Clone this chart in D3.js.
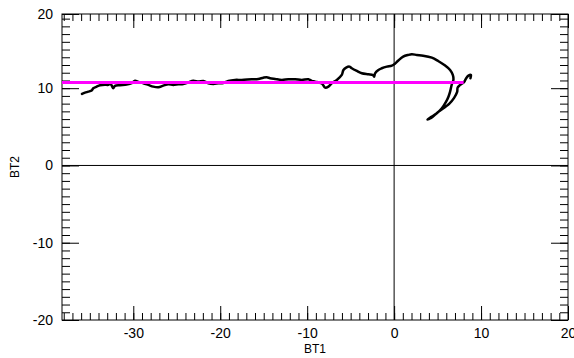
<!DOCTYPE html>
<html>
<head>
<meta charset="utf-8">
<script src="https://cdn.jsdelivr.net/npm/d3@7"></script>
<style>
  body { margin: 0; background: #fff; }
  svg { display: block; font-family: "Liberation Sans", Arial, sans-serif; }
</style>
</head>
<body>
<svg id="chart" width="574" height="358"></svg>
<script>
// trajectory (BT1, BT2)
const bt1 = [-35.90, -35.56, -35.18, -34.79, -34.60, -34.21, -33.83, -33.26, -32.88, -32.68,
  -32.49, -32.30, -32.11, -31.53, -30.76, -30.18, -29.80, -29.42, -28.85, -28.27,
  -27.70, -27.12, -26.55, -25.97, -25.40, -24.82, -24.25, -23.67, -23.10, -22.52,
  -21.94, -21.37, -20.79, -20.22, -19.64, -19.07, -18.30, -17.53, -16.38, -15.62,
  -15.04, -14.65, -14.27, -13.69, -12.92, -12.16, -11.39, -10.62, -9.86, -9.47,
  -9.09, -8.32, -7.94, -7.56, -7.17, -6.59, -6.02, -5.83, -5.52, -5.14,
  -4.87, -4.29, -3.72, -2.96, -2.45, -2.30, -2.19, -1.81, -1.42, -0.84,
  -0.26, 0.12, 0.49, 1.04, 1.61, 2.04, 2.61, 3.34, 4.34, 5.06,
  5.87, 6.44, 6.75, 6.82, 6.64, 6.44, 6.25, 5.98, 5.49, 4.91,
  4.34, 3.83, 4.26, 5.06, 6.33, 6.90, 7.25, 7.31, 7.59, 8.06,
  8.29, 8.55, 8.83, 8.78]
const bt2 = [9.25, 9.42, 9.55, 9.71, 9.99, 10.20, 10.38, 10.46, 10.42, 10.64,
  10.35, 9.99, 10.29, 10.38, 10.46, 10.64, 10.97, 10.81, 10.64, 10.42,
  10.20, 10.12, 10.33, 10.51, 10.42, 10.51, 10.55, 10.74, 10.97, 10.85,
  10.94, 10.64, 10.55, 10.64, 10.68, 10.94, 11.07, 11.07, 11.16, 11.19,
  11.36, 11.41, 11.29, 11.19, 11.07, 11.16, 11.16, 11.07, 11.16, 10.94,
  10.85, 10.61, 10.07, 10.20, 10.64, 11.07, 11.71, 12.36, 12.66, 12.79,
  12.58, 12.23, 11.93, 11.80, 11.71, 11.49, 11.93, 12.36, 12.58, 12.79,
  12.92, 13.20, 13.59, 14.08, 14.30, 14.39, 14.30, 14.21, 13.95, 13.52,
  12.92, 12.36, 11.71, 11.07, 10.51, 9.55, 8.90, 8.26, 7.40, 6.76,
  6.32, 5.95, 6.15, 6.92, 7.96, 8.74, 9.51, 10.09, 10.42, 10.81,
  11.29, 11.62, 11.71, 11.29]

// magenta reference line
const fitX = [-38.2, 8.0]
const fitY = [10.75, 10.75]

const xMajor = [-30, -20, -10, 0, 10, 20]
const yMajor = [-20, -10, 0, 10, 20]
const xMinor = d3.range(-38, 21, 1)
const yMinor = d3.range(-19, 20, 1)

const margin = { left: 62, right: 6, top: 14, bottom: 38 }
const width = 574
const height = 358
const svg = d3.select('#chart')

const x = d3.scaleLinear()
  .domain([-38.2, 20])
  .range([margin.left, width - margin.right])

const y = d3.scaleLinear()
  .domain([-20, 19.6])
  .range([height - margin.bottom, margin.top])
  .clamp(true)

const x0 = margin.left
const x1 = width - margin.right
const y0 = height - margin.bottom
const y1 = margin.top

const label = (d) => String(d)

const styleAxis = (g) => {
  g.select('.domain').remove()
  g.selectAll('line').attr('stroke', '#000').attr('stroke-width', 1)
  g.selectAll('text').attr('fill', '#000').attr('font-size', 14)
}

// minor ticks on all four sides
svg.append('g').attr('transform', `translate(0,${y0})`)
  .call(d3.axisBottom(x).tickValues(xMinor).tickSize(-7).tickFormat(''))
  .call(styleAxis)
svg.append('g').attr('transform', `translate(0,${y1})`)
  .call(d3.axisTop(x).tickValues(xMinor).tickSize(-7).tickFormat(''))
  .call(styleAxis)
svg.append('g').attr('transform', `translate(${x0},0)`)
  .call(d3.axisLeft(y).tickValues(yMinor).tickSize(-8).tickFormat(''))
  .call(styleAxis)
svg.append('g').attr('transform', `translate(${x1},0)`)
  .call(d3.axisRight(y).tickValues(yMinor).tickSize(-8).tickFormat(''))
  .call(styleAxis)

// major ticks with labels
svg.append('g').attr('transform', `translate(0,${y0})`)
  .call(d3.axisBottom(x).tickValues(xMajor).tickSize(-14).tickPadding(8).tickFormat(label))
  .call(styleAxis)
svg.append('g').attr('transform', `translate(0,${y1})`)
  .call(d3.axisTop(x).tickValues(xMajor).tickSize(-14).tickFormat(''))
  .call(styleAxis)
svg.append('g').attr('transform', `translate(${x0},0)`)
  .call(d3.axisLeft(y).tickValues(yMajor).tickSize(-17).tickPadding(9).tickFormat(label))
  .call(styleAxis)
svg.append('g').attr('transform', `translate(${x1},0)`)
  .call(d3.axisRight(y).tickValues(yMajor).tickSize(-17).tickFormat(''))
  .call(styleAxis)

// zero lines
svg.append('line')
  .attr('x1', x(0)).attr('x2', x(0)).attr('y1', y0).attr('y2', y1)
  .attr('stroke', '#000').attr('stroke-width', 1)
svg.append('line')
  .attr('x1', x0).attr('x2', x1).attr('y1', y(0)).attr('y2', y(0))
  .attr('stroke', '#000').attr('stroke-width', 1)

// frame
svg.append('rect')
  .attr('x', x0).attr('y', y1)
  .attr('width', x1 - x0).attr('height', y0 - y1)
  .attr('fill', 'none').attr('stroke', '#000').attr('stroke-width', 1)

const line = d3.line()
  .x((d) => x(d[0]))
  .y((d) => y(d[1]))
  .curve(d3.curveCatmullRom)

svg.append('path')
  .datum(d3.zip(bt1, bt2))
  .attr('d', line)
  .attr('fill', 'none')
  .attr('stroke', '#000')
  .attr('stroke-width', 2.5)
  .attr('stroke-linejoin', 'round')
  .attr('stroke-linecap', 'round')

svg.append('path')
  .datum(d3.zip(fitX, fitY))
  .attr('d', d3.line().x((d) => x(d[0])).y((d) => y(d[1])))
  .attr('fill', 'none')
  .attr('stroke', '#ff00ff')
  .attr('stroke-width', 3)

// axis titles
svg.append('text')
  .attr('x', (x0 + x1) / 2).attr('y', 353)
  .attr('text-anchor', 'middle')
  .attr('fill', '#000')
  .attr('font-size', 12)
  .text('BT1')

svg.append('text')
  .attr('transform', `translate(19,${(y0 + y1) / 2}) rotate(-90)`)
  .attr('text-anchor', 'middle')
  .attr('fill', '#000')
  .attr('font-size', 12)
  .text('BT2')
</script>
</body>
</html>
